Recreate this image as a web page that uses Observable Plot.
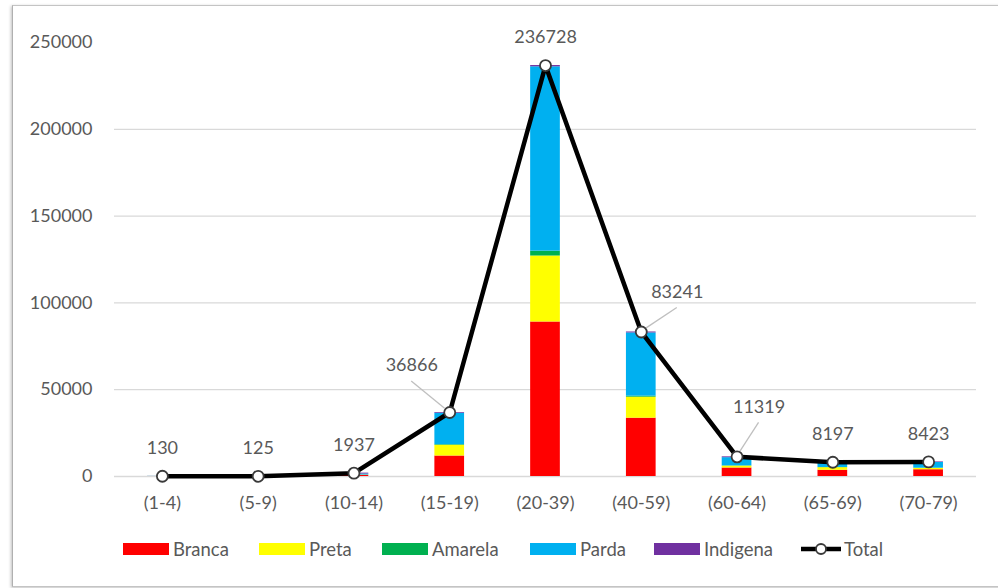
<!DOCTYPE html>
<html><head><meta charset="utf-8">
<script src="https://cdn.jsdelivr.net/npm/d3@7"></script>
<script src="https://cdn.jsdelivr.net/npm/@observablehq/plot@0.6"></script>
<style>
html,body{margin:0;padding:0;background:#fff;}
body{width:998px;height:588px;overflow:hidden;position:relative;font-family:Lato,"Open Sans",sans-serif;}
#frame{position:absolute;left:12px;top:5px;width:1000px;height:580px;border:1px solid #c4c4c4;border-left-color:#b0b0b0;box-shadow:-1px 1px 3px rgba(0,0,0,.25);}
#chart{position:absolute;left:0;top:0;}
#legend{position:absolute;left:0;top:538px;width:998px;height:22px;font-size:18.5px;color:#595959;line-height:22px;}
.item{position:absolute;top:0;display:flex;align-items:center;gap:4px}
.sw{width:46px;height:12px;display:inline-block}
</style></head><body>
<div id="frame"></div><div id="chart"></div><div id="legend"></div>
<script>
// ---- data ----
const categories = ["(1-4)","(5-9)","(10-14)","(15-19)","(20-39)","(40-59)","(60-64)","(65-69)","(70-79)"];
const races = ["Branca","Preta","Amarela","Parda","Indigena"];
const branca   = [30, 35, 600, 11800, 89000, 33600, 4900, 3600, 3900];
const preta    = [10, 10, 200, 6200, 38000, 12100, 1100, 1500, 800];
const amarela  = [0, 0, 17, 350, 2800, 600, 150, 100, 100];
const parda    = [80, 70, 620, 18100, 106200, 36400, 4700, 2700, 3300];
const indigena = [10, 10, 500, 416, 728, 541, 469, 297, 323];
const total    = [130, 125, 1937, 36866, 236728, 83241, 11319, 8197, 8423];
const yTicks = [0, 50000, 100000, 150000, 200000, 250000];
const gridTicks = [0, 50000, 100000, 150000, 200000];

// ---- styles ----
const raceColors = ["#FF0000","#FFFF00","#00B050","#00B0F0","#7030A0"];
const labelNudge = {"(15-19)": {dx: -38, dy: -47}, "(40-59)": {dx: 36, dy: -40}, "(60-64)": {dx: 22, dy: -50}};
const defaultNudge = {dx: 0, dy: -28};
const legendLeft = [123, 259, 382, 530, 654, 801];

const series = [branca, preta, amarela, parda, indigena];
const rows = [];
categories.forEach((c, i) => races.forEach((r, j) => rows.push({cat: c, race: r, value: series[j][i]})));
const totals = categories.map((c, i) => ({cat: c, total: total[i]}));

const textMarks = totals.map(d => {
  const n = labelNudge[d.cat] || defaultNudge;
  return Plot.text([d], {x: "cat", y: "total", text: d => String(d.total), dx: n.dx, dy: n.dy, fill: "#595959", fontSize: 18});
});

const plot = Plot.plot({
  width: 998, height: 530,
  marginLeft: 114, marginRight: 22, marginTop: 42, marginBottom: 54,
  style: {fontFamily: "Lato, 'Open Sans', sans-serif", fontSize: "18px", color: "#595959", background: "transparent", overflow: "visible"},
  x: {domain: categories, paddingInner: 0.69, paddingOuter: 0.345, round: false, label: null, tickSize: 0, tickPadding: 20},
  y: {domain: [0, 250000], ticks: yTicks, tickFormat: d => String(d), label: null, tickSize: 0, tickPadding: 22},
  color: {domain: races, range: raceColors},
  marks: [
    Plot.ruleY(gridTicks, {stroke: "#d9d9d9", strokeWidth: 1.3}),
    Plot.barY(rows, {x: "cat", y: "value", fill: "race"}),
    Plot.line(totals, {x: "cat", y: "total", stroke: "#000", strokeWidth: 4.5}),
    Plot.dot(totals, {x: "cat", y: "total", r: 5.5, fill: "#fff", stroke: "#3a3a3a", strokeWidth: 1.8}),
    ...textMarks
  ]
});
document.getElementById("chart").appendChild(plot);

// leader lines for nudged labels, positioned with the plot's scales
const xs = plot.scale("x"), ys = plot.scale("y");
const svg = d3.select(plot);
const g = svg.insert("g", "g[aria-label='dot']");
totals.forEach(d => {
  const n = labelNudge[d.cat];
  if (!n) return;
  const px = xs.apply(d.cat) + xs.bandwidth / 2, py = ys.apply(d.total);
  const lx = px + n.dx, ly = py + n.dy + 16;
  const dxl = px - lx, dyl = py - ly, len = Math.hypot(dxl, dyl);
  g.append("line").attr("x1", lx).attr("y1", ly)
    .attr("x2", px - dxl / len * 6).attr("y2", py - dyl / len * 6)
    .attr("stroke", "#bfbfbf").attr("stroke-width", 1.3);
});

// legend
const legend = d3.select("#legend");
races.forEach((r, i) => {
  const it = legend.append("div").attr("class", "item").style("left", legendLeft[i] + "px");
  it.append("span").attr("class", "sw").style("background", raceColors[i]);
  it.append("span").text(r);
});
const tot = legend.append("div").attr("class", "item").style("left", legendLeft[5] + "px").style("gap", "3px");
const ls = tot.append("svg").attr("width", 40).attr("height", 14);
ls.append("line").attr("x1", 0).attr("x2", 40).attr("y1", 7).attr("y2", 7).attr("stroke", "#000").attr("stroke-width", 4.5);
ls.append("circle").attr("cx", 20).attr("cy", 7).attr("r", 5).attr("fill", "#fff").attr("stroke", "#3a3a3a").attr("stroke-width", 1.8);
tot.append("span").text("Total");
</script>
</body></html>
